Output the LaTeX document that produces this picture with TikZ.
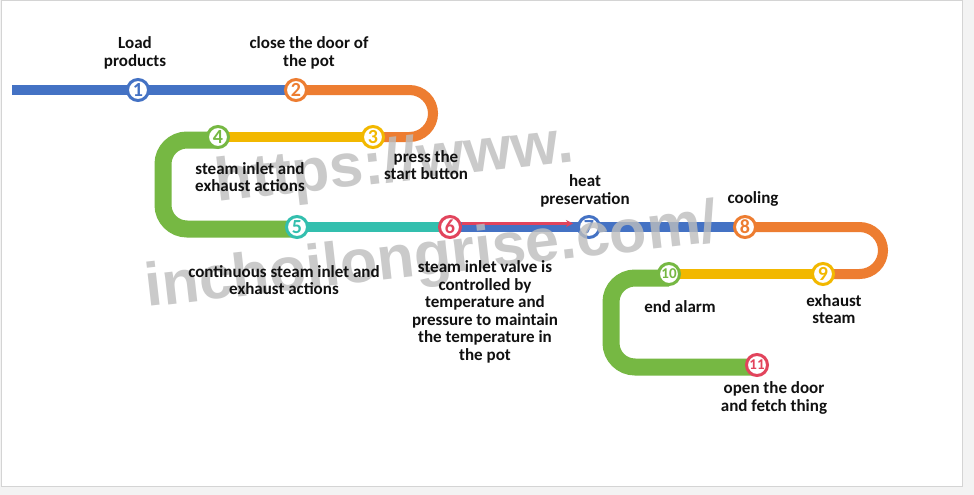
\documentclass[tikz,border=0pt]{standalone}
\usepackage{fontspec}
\setmainfont{Carlito}
\newfontfamily\wmfont{Liberation Sans}
\usetikzlibrary{arrows.meta}
\pgfdeclarelayer{paper}
\pgfdeclarelayer{lanes}
\pgfsetlayers{paper,lanes,main}
\definecolor{cblue}{HTML}{4472C4}
\definecolor{corange}{HTML}{ED7D31}
\definecolor{cyellow}{HTML}{F2B800}
\definecolor{cgreen}{HTML}{76B843}
\definecolor{cteal}{HTML}{33BFAE}
\definecolor{cred}{HTML}{E2445C}
\definecolor{txt}{HTML}{111111}
\definecolor{bggray}{HTML}{F3F3F3}
\definecolor{framegray}{HTML}{D4D4D4}
\definecolor{wmgray}{HTML}{BDBDBD}
\tikzset{
  lane/.style={line width=10pt},
  fatlane/.style={line width=17pt},
  stopnode/.style={circle, draw=#1, fill=white, line width=3pt, minimum size=21pt,
    inner sep=0pt, text=#1, font=\bfseries\fontsize{20}{20}\selectfont},
  smallnum/.style={font=\bfseries\fontsize{15}{15}\selectfont},
  lbl/.style={align=center, font=\bfseries\fontsize{17}{17.5}\selectfont, text=txt, inner sep=0pt},
  wm/.style={font=\wmfont\bfseries\fontsize{61}{61}\selectfont, text=wmgray, text opacity=0.8, inner sep=0pt},
}
\begin{document}
\begin{tikzpicture}[x=1pt,y=-1pt]
\useasboundingbox (0,0) rectangle (974,495);
\begin{pgfonlayer}{paper}
\fill[bggray] (0,0) rectangle (974,495);
\draw[framegray, fill=white, line width=1pt] (1.5,0.5) rectangle (962,486);
\end{pgfonlayer}

% stops
\node[stopnode=cblue]   (n1) at (138,90)  {1};
\node[stopnode=corange] (n2) at (296,90)  {2};
\node[stopnode=cyellow] (n3) at (373,137) {3};
\node[stopnode=cgreen]  (n4) at (218,137) {4};
\node[stopnode=cteal]   (n5) at (297,227) {5};
\node[stopnode=cred]    (n6) at (450,227) {6};
\node[stopnode=cblue]   (n7) at (589,227) {7};
\node[stopnode=corange] (n8) at (745,227) {8};
\node[stopnode=cyellow] (n9) at (823,274) {9};
\node[stopnode=cgreen, smallnum] (n10) at (669,274) {10};
\node[stopnode=cred, smallnum]   (n11) at (757,365) {11};
\coordinate (start) at (12,90);

% lanes (below the stops)
\begin{pgfonlayer}{lanes}
\draw[lane, cblue] (start) -- (n2.center);
\draw[lane, corange, rounded corners=23.5pt] (n2.center) -- (433,90) -- (433,137) -- (n3.center);
\draw[lane, cyellow] (n3.center) -- (n4.center);
\draw[fatlane, cgreen, rounded corners=24pt] ([yshift=-3pt]n4.center) -- (163,140) -- (163,229) -- ([yshift=-2pt]n5.center);
\draw[lane, cteal] (n5.center) -- (n6.center);
\draw[lane, cblue] (n6.center) -- (n7.center) -- (n8.center);
\draw[line width=2.5pt, cred, -{Stealth[length=7pt,width=7pt]}] ([yshift=3.5pt]n6.east) -- ([yshift=3.5pt,xshift=-4pt]n7.west);
\draw[lane, corange, rounded corners=23.5pt] (n8.center) -- (883,227) -- (883,274) -- (n9.center);
\draw[lane, cyellow] (n9.center) -- (n10.center);
\draw[fatlane, cgreen, rounded corners=24pt] ([yshift=-4pt]n10.center) -- (611,278) -- (611,367) -- ([yshift=-2pt]n11.center);
\end{pgfonlayer}

% watermark
\node[wm, anchor=base west, rotate=6.5] (w1) at (217,202) {https://www.};
\node[wm, anchor=base west, rotate=6.5] (w2) at (147,307) {inchoilongrise.com/};

% labels
\node[lbl] (l1) at (135,53) {Load\\products};
\node[lbl] (l2) at (309,53) {close the door of\\the pot};
\node[lbl] (l3) at (426,165) {press the\\start button};
\node[lbl] (l4) at (250,177) {steam inlet and\\exhaust actions};
\node[lbl] (l5) at (284,280) {continuous steam inlet and\\exhaust actions};
\node[lbl] (l6) at (485,312) {steam inlet valve is\\controlled by\\temperature and\\pressure to maintain\\the temperature in\\the pot};
\node[lbl] (l7) at (585,191) {heat\\preservation};
\node[lbl] (l8) at (753,199) {cooling};
\node[lbl] (l9) at (834,309) {exhaust\\steam};
\node[lbl] (l10) at (680,307) {end alarm};
\node[lbl] (l11) at (774,398) {open the door\\and fetch thing};
\end{tikzpicture}
\end{document}
